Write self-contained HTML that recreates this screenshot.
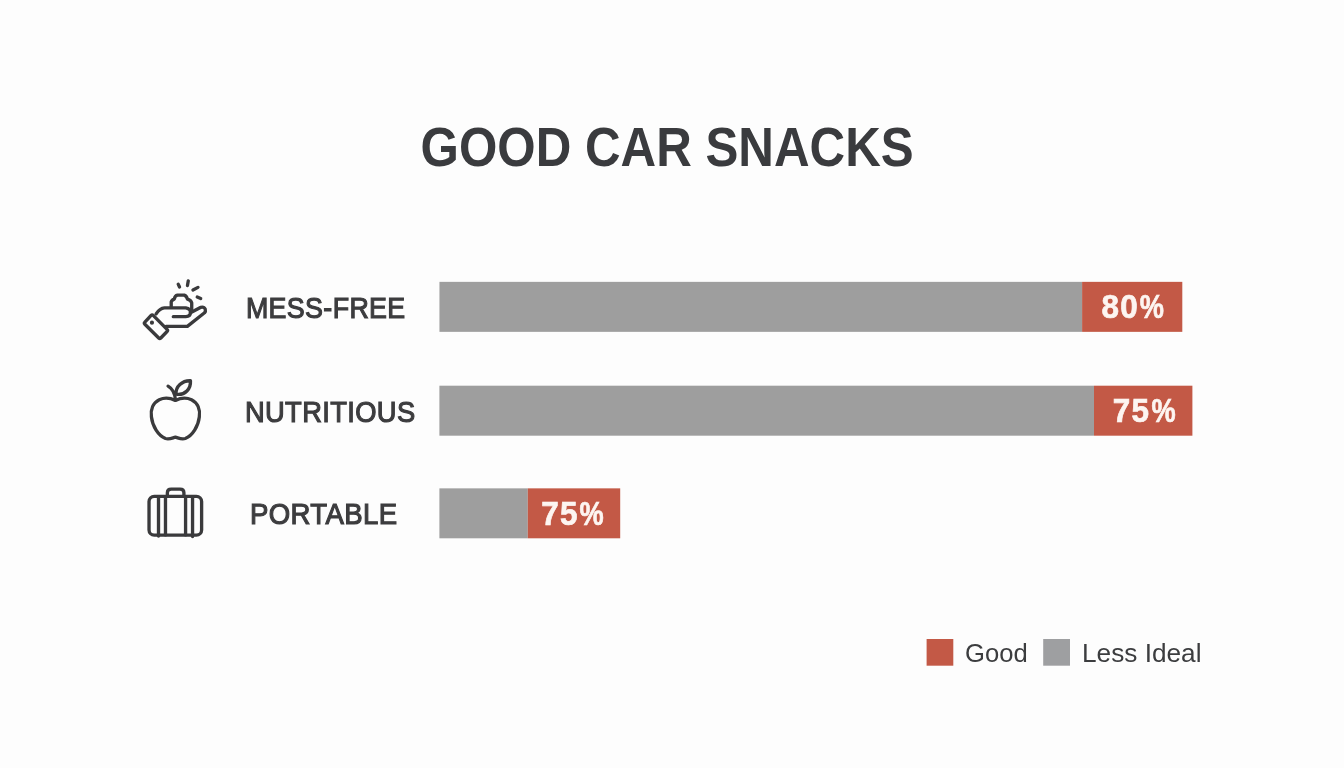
<!DOCTYPE html>
<html lang="en">
<head>
<meta charset="utf-8">
<title>Good Car Snacks</title>
<style>
  html, body { margin: 0; padding: 0; background: #fdfdfd; }
  body {
    width: 1344px; height: 768px; overflow: hidden; position: relative;
    background: #fdfdfd;
    font-family: "Liberation Sans", Arial, Helvetica, sans-serif;
    color: #3b3c3e;
  }
  .t { position: absolute; white-space: nowrap; transform-origin: 0 0; line-height: 1; margin: 0; }
  h1.t { font-weight: 700; font-size: 56.1px; left: 420px; top: 119.1px; transform: translate(0.6px,0) scaleX(0.879); color: #3a3b3e; }
  .lab { font-size: 29.5px; font-weight: 400; color: #3c3c3e; -webkit-text-stroke: 1.15px #3c3c3e; letter-spacing: 0.4px; paint-order: stroke fill; }
  #l1 { left: 245px; top: 292.6px; transform: translate(0.9px,0) scaleX(0.909); }
  #l2 { left: 244px; top: 396.6px; transform: translate(0.9px,0) scaleX(0.926); }
  #l3 { left: 249px; top: 498.6px; transform: translate(0.9px,0) scaleX(0.935); }
  .pct { font-weight: 700; font-size: 34px; color: #fdf5f1; -webkit-text-stroke: 0.7px #fdf5f1; }
  .pctw { position: absolute; left: 0; top: 0; width: 0; height: 0; }
  .pct { display: block; }
  .pct.d { letter-spacing: 1.3px; }
  .leg { font-size: 26px; color: #3c3d3f; }
  svg.ic { position: absolute; overflow: visible; }
  svg.ic * { fill: none; stroke: #3a3a3c; stroke-width: 32; stroke-linecap: round; stroke-linejoin: round; }
</style>
</head>
<body>
<svg id="bars" width="1344" height="768" viewBox="0 0 1344 768" style="position:absolute;left:0;top:0">
  <rect x="439.45" y="281.85" width="642.65" height="50" fill="#9e9e9e"/>
  <rect x="1082.1" y="281.85" width="100.2" height="50" fill="#c35946"/>
  <rect x="439.4" y="385.7" width="654.6" height="50" fill="#9e9e9e"/>
  <rect x="1094" y="385.7" width="98.4" height="50" fill="#c35946"/>
  <rect x="439.4" y="488.35" width="88.4" height="49.95" fill="#9e9e9e"/>
  <rect x="527.8" y="488.35" width="92.4" height="49.95" fill="#c35946"/>
  <rect x="926.6" y="639" width="26.7" height="26.7" fill="#c35946"/>
  <rect x="1043.2" y="639" width="26.8" height="26.7" fill="#9e9fa1"/>
</svg>
<h1 class="t">GOOD CAR SNACKS</h1>

<!-- row 1 -->
<svg class="ic" style="left:128px;top:268px" width="96" height="80" viewBox="0 0 922 768">
  <path d="M222 455 Q232 445 242 455 L375 590 Q385 600 375 610 L315 672 Q305 682 295 672 L162 540 Q152 530 162 520 Z"/>
  <circle cx="230" cy="525" r="12" style="fill:#3a3a3c;stroke-width:16"/>
  <path d="M270 440 Q305 385 350 382 L555 382 Q600 390 600 425 Q600 465 555 467 L435 467"/>
  <path d="M600 430 L700 377 Q730 370 742 395 Q748 415 735 430 L570 560 L365 560"/>
  <path d="M415 372 L415 325 Q420 305 445 298 Q450 265 475 260 L540 260 Q565 270 570 298 Q605 305 612 335 L612 395"/>
  <path d="M482 155 L495 183"/>
  <path d="M579 123 L571 168"/>
  <path d="M672 186 L624 211"/>
  <path d="M665 279 L698 293"/>
</svg>
<div class="t lab" id="l1">MESS-FREE</div>
<div class="pctw" id="p1"><span class="t pct d" style="left:1101px;top:289.1px;transform:translate(0.6px,0) scaleX(0.925)">80</span><span class="t pct p" style="left:1139px;top:289.1px;transform:translate(0.7px,0) scaleX(0.8)">%</span></div>

<!-- row 2 -->
<svg class="ic" style="left:128px;top:370px" width="96" height="80" viewBox="0 0 922 768">
  <path d="M455 292 C400 265 350 262 300 285 C240 315 215 380 225 450 C235 540 290 630 360 658 C400 670 430 650 455 645 C480 650 510 670 550 658 C620 630 675 540 685 450 C695 380 670 315 610 285 C560 262 510 265 455 292 Z"/>
  <path d="M385 155 C420 175 450 220 455 285"/>
  <path d="M462 232 C455 160 520 100 600 103 C605 180 550 245 462 232 Z"/>
</svg>
<div class="t lab" id="l2">NUTRITIOUS</div>
<div class="pctw" id="p2"><span class="t pct d" style="left:1112px;top:393.2px;transform:translate(0.7px,0) scaleX(0.925)">75</span><span class="t pct p" style="left:1151px;top:393.2px;transform:translate(0.6px,0) scaleX(0.8)">%</span></div>

<!-- row 3 -->
<svg class="ic" style="left:128px;top:474px" width="96" height="80" viewBox="0 0 922 768">
  <rect x="202" y="215" width="505" height="372" rx="50" ry="50"/>
  <path d="M378 210 L378 180 Q378 145 415 145 L500 145 Q537 145 537 180 L537 210"/>
  <path d="M293 222 L293 595"/>
  <path d="M360 222 L360 585"/>
  <path d="M553 222 L553 585"/>
  <path d="M620 222 L620 600"/>
</svg>
<div class="t lab" id="l3">PORTABLE</div>
<div class="pctw" id="p3"><span class="t pct d" style="left:541px;top:495.7px;transform:translate(0.3px,0) scaleX(0.925)">75</span><span class="t pct p" style="left:579px;top:495.7px;transform:translate(0.5px,0) scaleX(0.8)">%</span></div>

<!-- legend -->
<div class="t leg" id="g1" style="left:964.9px;top:639.6px;transform:scaleX(0.985)">Good</div>
<div class="t leg" id="g2" style="left:1081.5px;top:639.6px;transform:scaleX(1.008)">Less Ideal</div>
</body>
</html>
